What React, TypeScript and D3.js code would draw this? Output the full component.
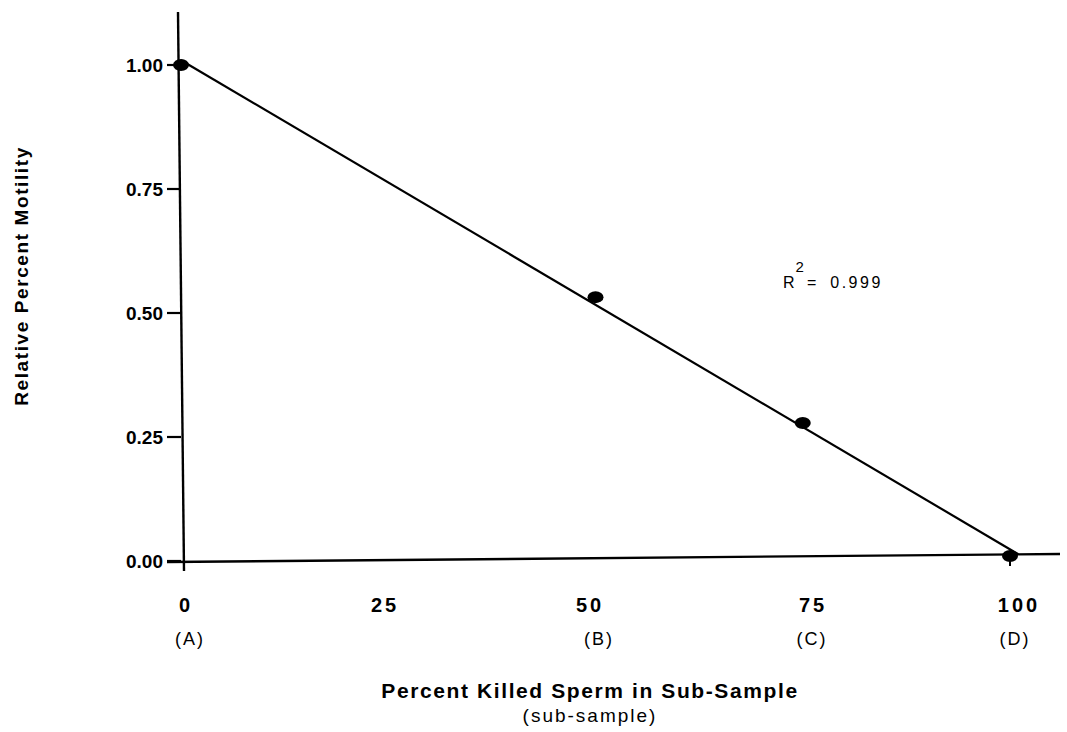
import { useRef, useEffect } from 'react';
import * as d3 from 'd3';

const percentKilled = [0, 50, 75, 100];
const motility = [1.0, 0.532, 0.278, 0.01];
const sampleLetters = ['(A)', '(B)', '(C)', '(D)'];
const xTicks = [0, 25, 50, 75, 100];
const yTicks = [0, 0.25, 0.5, 0.75, 1.0];

const App = () => {
  const svgRef = useRef<SVGSVGElement>(null);

  useEffect(() => {
    const svg = d3.select(svgRef.current);
    svg.selectAll('*').remove();
    const font = '"Liberation Sans", Arial, Helvetica, sans-serif';

    const x = d3.scaleLinear().domain([0, 100]).range([181, 1010]);
    const y = d3.scaleLinear().domain([0, 1]).range([561, 65]);

    // axes
    svg.append('line')
      .attr('x1', x(0) - 3).attr('x2', x(0) + 3)
      .attr('y1', 12).attr('y2', y(0) + 10)
      .attr('stroke', '#000').attr('stroke-width', 2.4);
    svg.append('line')
      .attr('x1', 167).attr('x2', 1060)
      .attr('y1', y(0) + 1).attr('y2', y(0) - 7)
      .attr('stroke', '#000').attr('stroke-width', 2.4);
    svg.append('line')
      .attr('x1', x(100)).attr('x2', x(100))
      .attr('y1', y(0) - 6).attr('y2', y(0) + 5)
      .attr('stroke', '#000').attr('stroke-width', 2);

    svg.append('g').selectAll('line')
      .data(yTicks)
      .join('line')
      .attr('x1', x(0) - 14).attr('x2', x(0))
      .attr('y1', d => y(d)).attr('y2', d => y(d))
      .attr('stroke', '#000').attr('stroke-width', 2.2);

    svg.append('g').selectAll('text')
      .data(yTicks)
      .join('text')
      .attr('x', 163)
      .attr('y', d => y(d) + 7)
      .attr('text-anchor', 'end')
      .attr('font-family', font).attr('font-weight', 'bold').attr('font-size', 19)
      .text(d => d3.format('.2f')(d));

    const xLabelPos = [186, 385, 590, 813, 1019];
    svg.append('g').selectAll('text')
      .data(xTicks)
      .join('text')
      .attr('x', (d, i) => xLabelPos[i])
      .attr('y', 612)
      .attr('text-anchor', 'middle')
      .attr('font-family', font).attr('font-weight', 'bold').attr('font-size', 20)
      .attr('letter-spacing', 3)
      .text(d => d);

    const letterPos = [190, 599, 812, 1015];
    svg.append('g').selectAll('text')
      .data(sampleLetters)
      .join('text')
      .attr('x', (d, i) => letterPos[i])
      .attr('y', 645)
      .attr('text-anchor', 'middle')
      .attr('font-family', font).attr('font-size', 18).attr('letter-spacing', 2)
      .text(d => d);

    // regression line
    const mx = d3.mean(percentKilled)!;
    const my = d3.mean(motility)!;
    const slope = d3.sum(percentKilled, (v, i) => (v - mx) * (motility[i] - my)) /
      d3.sum(percentKilled, v => (v - mx) ** 2);
    const icpt = my - slope * mx;
    const fit = [0, 101].map(v => [v, icpt + slope * v]);
    svg.append('path')
      .datum(fit)
      .attr('d', d3.line().x(d => x(d[0])).y(d => y(d[1])))
      .attr('fill', 'none').attr('stroke', '#000').attr('stroke-width', 2.2);

    svg.append('g').selectAll('ellipse')
      .data(percentKilled)
      .join('ellipse')
      .attr('cx', d => x(d))
      .attr('cy', (d, i) => y(motility[i]))
      .attr('rx', 8).attr('ry', 6)
      .attr('fill', '#000');

    // R^2 annotation
    const r2 = svg.append('text')
      .attr('x', 783).attr('y', 288)
      .attr('font-family', font).attr('font-size', 16);
    r2.append('tspan').text('R');
    r2.append('tspan').attr('dy', -16).attr('dx', 1).attr('font-size', 15).text('2');
    r2.append('tspan').attr('dy', 16).attr('dx', 3).text('=');
    r2.append('tspan').attr('dx', 14).attr('letter-spacing', 2.5).text('0.999');

    // titles
    svg.append('text')
      .attr('transform', 'translate(28,276) rotate(-90)')
      .attr('text-anchor', 'middle')
      .attr('font-family', font).attr('font-weight', 'bold').attr('font-size', 19)
      .attr('letter-spacing', 1.6)
      .text('Relative Percent Motility');
    svg.append('text')
      .attr('x', 590).attr('y', 698)
      .attr('text-anchor', 'middle')
      .attr('font-family', font).attr('font-weight', 'bold').attr('font-size', 21)
      .attr('letter-spacing', 1.6)
      .text('Percent Killed Sperm in Sub-Sample');
    svg.append('text')
      .attr('x', 590).attr('y', 722)
      .attr('text-anchor', 'middle')
      .attr('font-family', font).attr('font-size', 19).attr('letter-spacing', 2)
      .text('(sub-sample)');
  }, []);

  return (
    <svg ref={svgRef} width={1067} height={732}
      style={{ position: 'absolute', left: 0, top: 0, background: '#fff' }} />
  );
};

export default App;
